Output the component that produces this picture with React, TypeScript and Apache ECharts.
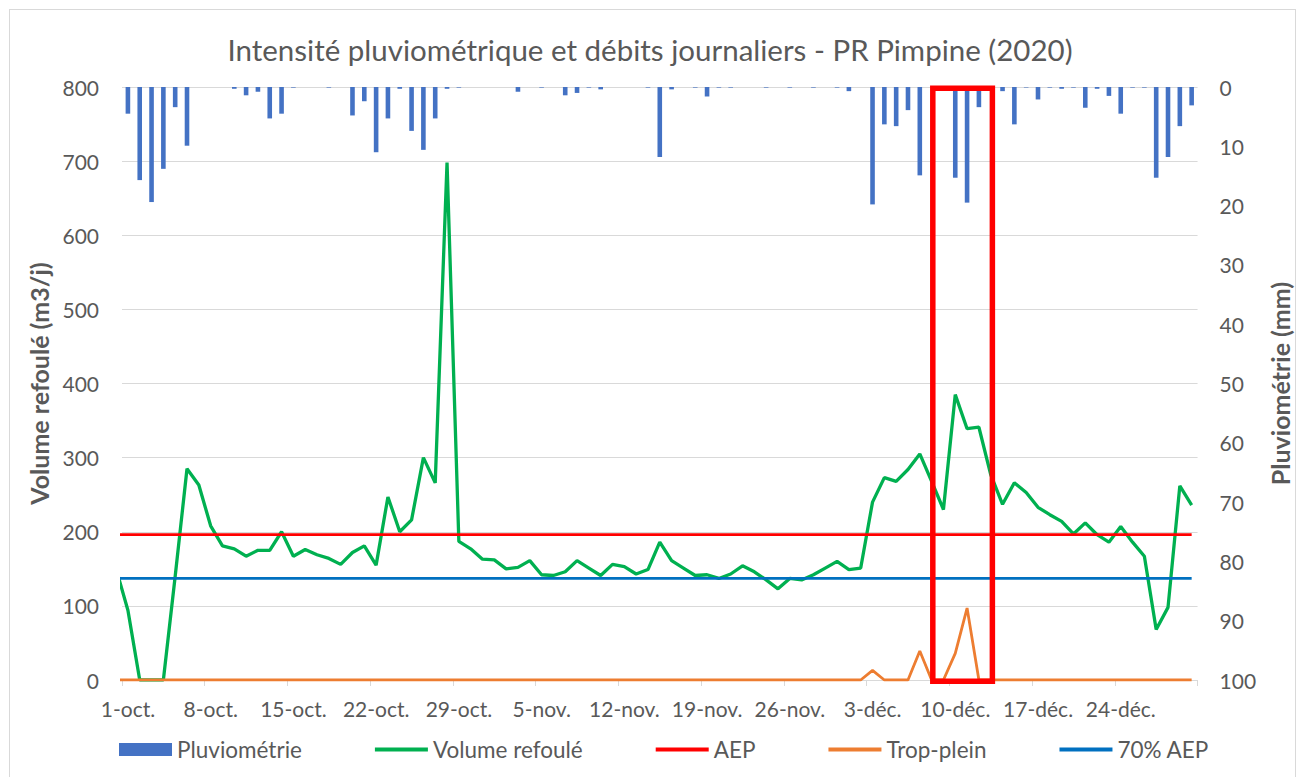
import React, { useEffect, useRef } from "react";
import * as echarts from "echarts";

// Tick labels of the date axis (one every 7 days, starting 1-oct.)
const tickLabels = [
  "1-oct.", "8-oct.", "15-oct.", "22-oct.", "29-oct.", "5-nov.", "12-nov.",
  "19-nov.", "26-nov.", "3-déc.", "10-déc.", "17-déc.", "24-déc.",
];

// Daily values, from 30-sept. (day -1) to 30-déc. (day 90)
const FIRST_DAY = -1;

const pluviometrie = [
  0,
  4.5, 15.7, 19.4, 13.8, 3.4, 9.9, 0, 0, 0, 0.3, 1.4, 0.8, 5.3, 4.5, 0.1, 0, 0, 0.1, 0, 4.8,
  2.4, 11.0, 5.3, 0.3, 7.4, 10.6, 5.3, 0.3, 0.1, 0, 0,
  0, 0, 0.8, 0, 0.1, 0, 1.4, 1.0, 0.1, 0.4, 0, 0, 0, 0.1, 11.8, 0.4, 0, 0.1, 1.6, 0.1,
  0.1, 0, 0, 0.1, 0, 0.1, 0, 0.1, 0, 0.1,
  0.7, 0, 19.8, 6.3, 6.6, 3.9, 14.9, 0, 0, 15.3, 19.5, 3.4, 0, 0.7, 6.3, 0.1, 2.1, 0.1,
  0.3, 0.1, 3.5, 0.3, 1.5, 4.5, 0.1, 0.1, 15.3, 11.8, 6.6, 3.1,
];

const volumeRefoule = [
  150,
  94, 0, 0, 0, 140, 285, 263, 208, 181, 177, 167, 175, 175, 200, 167, 176, 169, 164, 156, 172,
  181, 155, 247, 200, 216, 300, 266, 698, 187, 177, 163,
  162, 150, 152, 161, 142, 141, 146, 161, 151, 141, 156, 153, 143, 149, 186, 161, 151, 141, 142, 137,
  143, 154, 146, 135, 123, 137, 135, 142, 151, 160,
  149, 151, 240, 273, 268, 284, 305, 268, 230, 385, 339, 341, 277, 237, 266, 253, 233, 223,
  214, 197, 212, 196, 186, 207, 186, 167, 68, 98, 262, 236,
];

const tropPlein = [
  0,
  0, 0, 0, 0, 0, 0, 0, 0, 0, 0, 0, 0, 0, 0, 0, 0, 0, 0, 0, 0,
  0, 0, 0, 0, 0, 0, 0, 0, 0, 0, 0,
  0, 0, 0, 0, 0, 0, 0, 0, 0, 0, 0, 0, 0, 0, 0, 0, 0, 0, 0, 0,
  0, 0, 0, 0, 0, 0, 0, 0, 0, 0,
  0, 0, 13, 0, 0, 0, 39, 0, 0, 36, 97, 0, 0, 0, 0, 0, 0, 0,
  0, 0, 0, 0, 0, 0, 0, 0, 0, 0, 0, 0,
];

const AEP = 196;
const AEP_70 = 137.2;

// Highlighted period (in days from 1-oct.)
const highlightStart = 68.6;
const highlightEnd = 73.64;

const FONT = "Lato, 'Noto Sans', sans-serif";
const TEXT = "#595959";
const LINE_ICON = "path://M0,0L53,0L53,4L0,4Z";

const pos = (i: number) => i + FIRST_DAY + 0.5;
const toPoints = (arr: number[]) => arr.map((v, i) => [pos(i), v]);

export default function App() {
  const ref = useRef<HTMLDivElement>(null);

  useEffect(() => {
    if (!ref.current) return;
    const chart = echarts.init(ref.current, null, { renderer: "svg" });
    const option: any = {
      animation: false,
      textStyle: { fontFamily: FONT },
      title: {
        text: "Intensité pluviométrique et débits journaliers - PR Pimpine (2020)",
        left: "center",
        top: 29,
        textStyle: { fontFamily: FONT, fontSize: 29.5, fontWeight: "normal", color: TEXT },
      },
      grid: { left: 122, right: 94, top: 87, bottom: 97, containLabel: false },
      legend: {
        bottom: 11,
        left: 114,
        itemWidth: 53,
        itemHeight: 13,
        itemGap: 73,
        symbolKeepAspect: true,
        textStyle: { fontFamily: FONT, fontSize: 22.5, color: TEXT },
        data: [
          { name: "Pluviométrie", icon: "rect" },
          { name: "Volume refoulé", icon: LINE_ICON },
          { name: "AEP", icon: LINE_ICON },
          { name: "Trop-plein", icon: LINE_ICON },
          { name: "70% AEP", icon: LINE_ICON },
        ],
      },
      xAxis: {
        type: "value",
        min: 0,
        max: 91,
        interval: 7,
        splitLine: { show: false },
        axisLine: { show: true, lineStyle: { color: "#d9d9d9", width: 1 } },
        axisTick: { show: true, length: 6, lineStyle: { color: "#d9d9d9" } },
        axisLabel: {
          color: TEXT,
          fontSize: 21,
          fontFamily: FONT,
          margin: 18,
          padding: [0, 0, 0, 12],
          showMinLabel: true,
          showMaxLabel: true,
          formatter: (v: number) => tickLabels[Math.round(v / 7)] ?? "",
        },
      },
      yAxis: [
        {
          type: "value",
          min: 0,
          max: 800,
          interval: 100,
          name: "Volume refoulé (m3/j)",
          nameLocation: "middle",
          nameGap: 68,
          nameRotate: 90,
          nameTextStyle: { fontFamily: FONT, fontSize: 25, fontWeight: "bold", color: TEXT },
          axisLine: { show: false },
          axisTick: { show: false },
          axisLabel: { color: TEXT, fontSize: 21, fontFamily: FONT, margin: 23 },
          splitLine: { show: true, lineStyle: { color: "#d9d9d9", width: 1 } },
        },
        {
          type: "value",
          min: 0,
          max: 100,
          interval: 10,
          inverse: true,
          position: "right",
          name: "Pluviométrie (mm)",
          nameLocation: "middle",
          nameGap: 50,
          nameRotate: 90,
          nameTextStyle: { fontFamily: FONT, fontSize: 25, fontWeight: "bold", color: TEXT },
          axisLine: { show: false },
          axisTick: { show: false },
          axisLabel: { color: TEXT, fontSize: 21, fontFamily: FONT, margin: 22 },
          splitLine: { show: false },
        },
      ],
      series: [
        {
          name: "Pluviométrie",
          type: "bar",
          yAxisIndex: 1,
          barWidth: 4.6,
          itemStyle: { color: "#4472C4" },
          data: toPoints(pluviometrie),
        },
        {
          name: "Volume refoulé",
          type: "line",
          symbol: "none",
          lineStyle: { color: "#00B050", width: 3.3 },
          itemStyle: { color: "#00B050" },
          data: toPoints(volumeRefoule),
        },
        {
          name: "AEP",
          type: "line",
          symbol: "none",
          lineStyle: { color: "#FF0000", width: 2.8 },
          itemStyle: { color: "#FF0000" },
          data: volumeRefoule.map((_, i) => [pos(i), AEP]),
        },
        {
          name: "Trop-plein",
          type: "line",
          symbol: "none",
          lineStyle: { color: "#ED7D31", width: 2.8 },
          itemStyle: { color: "#ED7D31" },
          data: toPoints(tropPlein),
        },
        {
          name: "70% AEP",
          type: "line",
          symbol: "none",
          lineStyle: { color: "#0070C0", width: 2.8 },
          itemStyle: { color: "#0070C0" },
          data: volumeRefoule.map((_, i) => [pos(i), AEP_70]),
        },
      ],
    };
    chart.setOption(option);

    const p1 = chart.convertToPixel({ xAxisIndex: 0, yAxisIndex: 0 }, [highlightStart, 800]) as number[];
    const p2 = chart.convertToPixel({ xAxisIndex: 0, yAxisIndex: 0 }, [highlightEnd, 0]) as number[];
    chart.setOption({
      graphic: [
        {
          type: "rect",
          z: 100,
          shape: { x: p1[0], y: p1[1] + 1.3, width: p2[0] - p1[0], height: p2[1] - p1[1] },
          style: { fill: "rgba(0,0,0,0)", stroke: "#FF0000", lineWidth: 5.5 },
        },
      ],
    });

    return () => chart.dispose();
  }, []);

  return (
    <div style={{ position: "fixed", left: 0, top: 0, width: 1300, height: 777, background: "#fff", overflow: "hidden" }}>
      <div
        style={{
          position: "absolute",
          left: 9,
          top: 9,
          width: 1287,
          height: 900,
          border: "1px solid #d9d9d9",
          boxSizing: "border-box",
        }}
      />
      <div ref={ref} style={{ position: "absolute", left: 0, top: 0, width: 1300, height: 777 }} />
    </div>
  );
}
